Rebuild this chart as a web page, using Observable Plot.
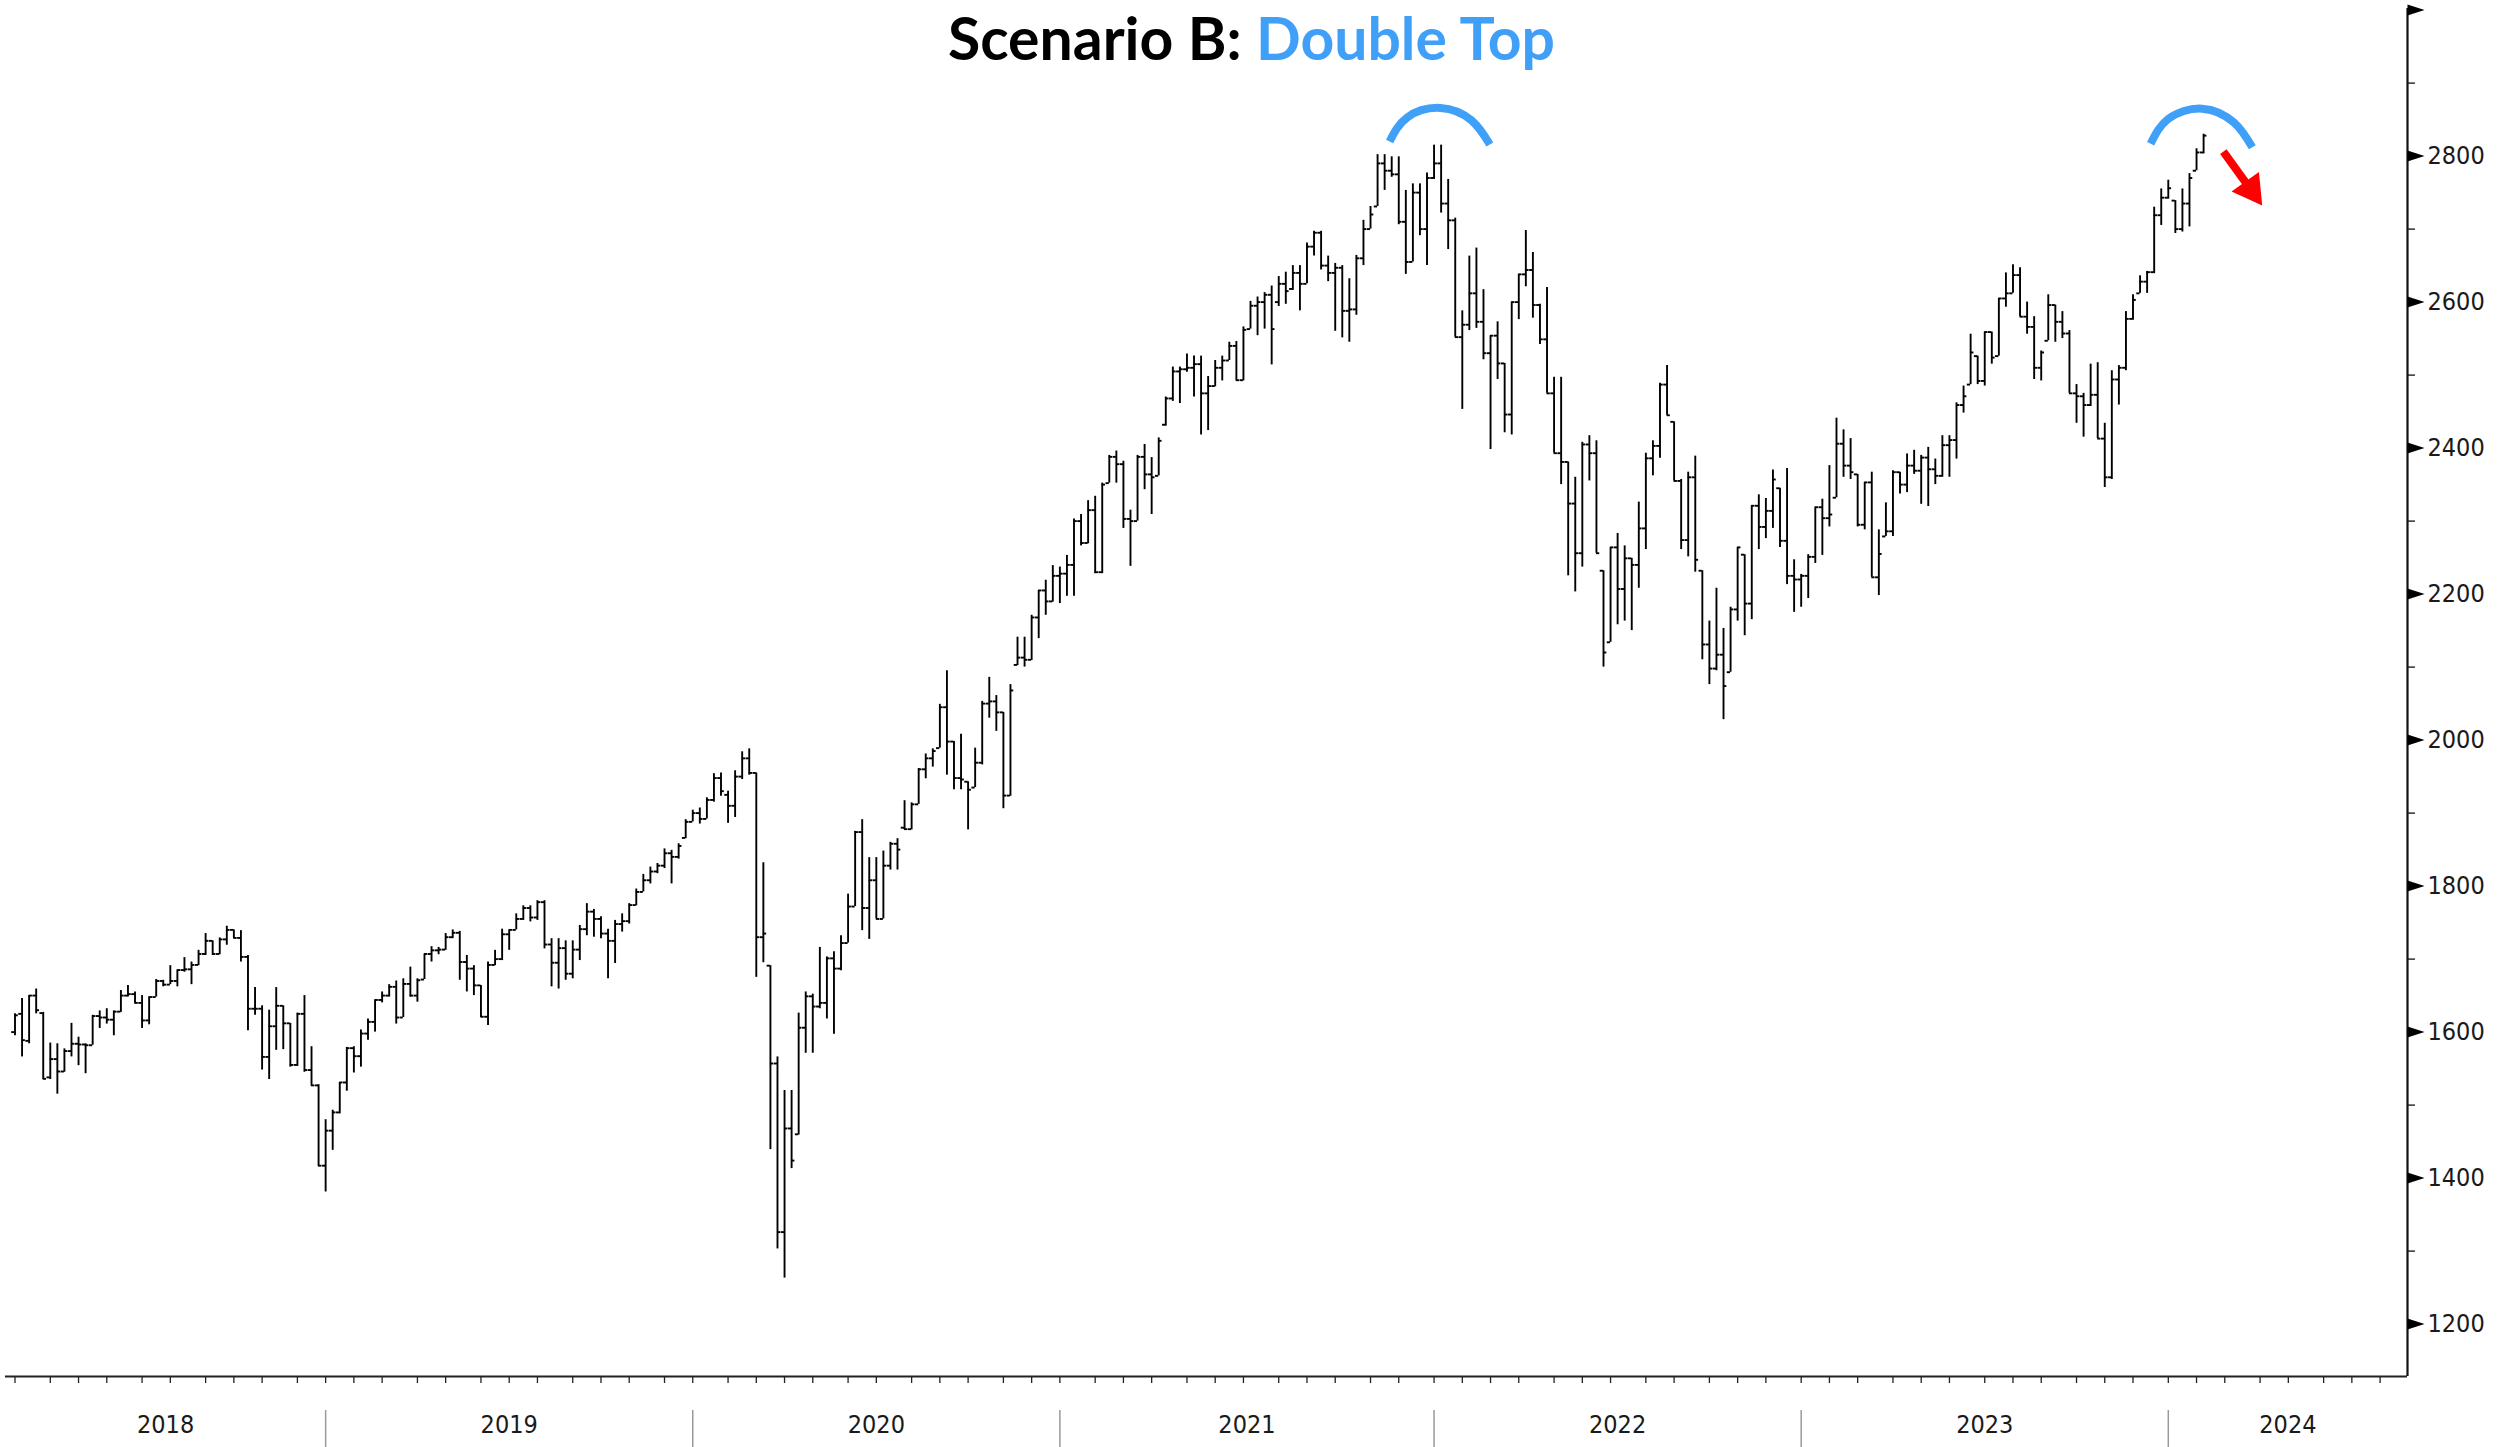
<!DOCTYPE html>
<html>
<head>
<meta charset="utf-8">
<script src="https://cdn.jsdelivr.net/npm/d3@7"></script>
<script src="https://cdn.jsdelivr.net/npm/@observablehq/plot@0.6"></script>
<style>
  html, body { margin: 0; padding: 0; background: #fff; }
  #wrap { position: relative; width: 2515px; height: 1447px; overflow: hidden; background: #fff; }
  #chart { position: absolute; left: 0; top: 0; }
  #title { position: absolute; left: 0; top: 0; }
</style>
</head>
<body>
<div id="wrap">
  <div id="chart"></div>
  <svg id="title" width="2515" height="90">
    <text x="948" y="60" textLength="607" lengthAdjust="spacingAndGlyphs"
      style="font-family: Lato, 'Open Sans', sans-serif; font-weight: 700; font-size: 60px;"><tspan fill="#000">Scenario B: </tspan><tspan fill="#40a0f8">Double Top</tspan></text>
  </svg>
</div>
<script>
// ---------------- DATA (weekly OHLC bars, first bar = week ending 2018-03-02) ----------------
const firstWeekEnding = "2018-03-02";

const opens = [
  1600,1625,1588,1650,1626,1538,1563,1546,1574,1584,
  1583,1582,1622,1620,1617,1628,1650,1652,1640,1616,
  1648,1670,1665,1670,1685,1686,1692,1707,1725,1707,
  1727,1740,1729,1703,1632,1632,1566,1608,1636,1612,
  1555,1625,1548,1527,1417,1465,1490,1531,1578,1567,
  1598,1614,1644,1650,1662,1620,1666,1650,1672,1707,
  1712,1713,1730,1736,1696,1687,1664,1621,1692,1700,
  1734,1740,1755,1770,1757,1778,1720,1695,1715,1680,
  1713,1741,1765,1755,1735,1725,1748,1752,1774,1792,
  1808,1820,1828,1845,1840,1866,1888,1900,1892,1918,
  1948,1925,1910,1950,1975,1955,1730,1691,1557,1326,
  1468,1460,1606,1649,1635,1640,1701,1687,1722,1772,
  1874,1770,1808,1755,1828,1858,1880,1878,1912,1960,
  1975,1989,2045,1998,1948,1943,1935,1969,2050,2053,
  2038,1924,2103,2113,2110,2168,2205,2190,2225,2228,
  2240,2300,2270,2315,2230,2352,2388,2378,2303,2300,
  2388,2364,2362,2432,2468,2505,2508,2510,2515,2475,
  2485,2510,2520,2540,2493,2563,2595,2600,2610,2600,
  2625,2618,2640,2625,2676,2695,2650,2640,2647,2588,
  2590,2660,2700,2731,2790,2780,2775,2710,2655,2750,
  2700,2770,2790,2735,2712,2552,2569,2612,2573,2530,
  2554,2516,2446,2600,2638,2644,2596,2549,2475,2393,
  2381,2324,2256,2405,2393,2232,2134,2264,2207,2249,
  2240,2290,2386,2403,2487,2436,2355,2274,2360,2232,
  2131,2098,2117,2093,2179,2254,2187,2321,2292,2314,
  2345,2273,2225,2220,2225,2251,2319,2304,2332,2406,
  2376,2364,2295,2353,2223,2279,2286,2367,2350,2376,
  2369,2387,2371,2362,2404,2411,2459,2487,2526,2492,
  2559,2526,2605,2612,2637,2580,2566,2510,2547,2596,
  2573,2557,2475,2471,2459,2473,2413,2360,2494,2510,
  2577,2612,2628,2641,2719,2743,2739,2700,2735,2780,
  2805
];

const highs = [
  1625,1646,1650,1659,1627,1585,1584,1577,1612,1593,
  1584,1623,1629,1632,1629,1657,1664,1655,1650,1648,
  1672,1671,1691,1685,1702,1696,1712,1735,1725,1729,
  1745,1740,1739,1705,1661,1636,1630,1661,1636,1612,
  1626,1650,1580,1528,1480,1493,1531,1579,1580,1603,
  1618,1644,1655,1665,1670,1673,1689,1673,1707,1717,
  1716,1735,1740,1738,1705,1691,1664,1696,1712,1741,
  1740,1762,1773,1773,1780,1780,1728,1728,1725,1725,
  1746,1776,1768,1758,1741,1753,1762,1776,1796,1816,
  1826,1831,1851,1849,1858,1891,1904,1907,1921,1954,
  1955,1930,1958,1984,1988,1955,1832,1691,1566,1520,
  1520,1626,1655,1652,1716,1703,1710,1732,1789,1875,
  1891,1839,1839,1848,1860,1865,1917,1914,1961,1981,
  1988,2049,2095,1998,2008,1943,1989,2053,2086,2061,
  2038,2076,2141,2141,2171,2205,2219,2239,2237,2253,
  2303,2309,2328,2334,2352,2390,2396,2382,2315,2390,
  2405,2387,2414,2470,2511,2511,2529,2526,2526,2498,
  2520,2526,2545,2546,2566,2601,2607,2613,2622,2635,
  2641,2650,2650,2681,2697,2697,2663,2653,2650,2632,
  2664,2712,2731,2802,2802,2799,2799,2753,2762,2762,
  2777,2815,2815,2768,2715,2588,2663,2674,2617,2554,
  2573,2516,2600,2638,2698,2668,2597,2620,2497,2497,
  2381,2360,2408,2417,2410,2232,2264,2283,2266,2249,
  2326,2393,2410,2489,2513,2436,2357,2367,2389,2232,
  2163,2208,2153,2182,2264,2254,2321,2336,2331,2370,
  2345,2372,2247,2227,2254,2319,2330,2376,2441,2425,
  2413,2364,2353,2367,2288,2325,2369,2367,2392,2397,
  2390,2401,2385,2417,2417,2462,2485,2556,2526,2559,
  2559,2605,2640,2651,2647,2600,2580,2533,2610,2596,
  2587,2561,2487,2475,2515,2517,2434,2506,2513,2587,
  2610,2636,2642,2730,2755,2767,2739,2755,2776,2810,
  2830
];

const lows = [
  1595,1566,1584,1625,1535,1535,1515,1545,1566,1554,
  1543,1582,1605,1611,1595,1627,1648,1639,1605,1610,
  1648,1662,1665,1662,1682,1665,1691,1705,1705,1706,
  1719,1728,1696,1602,1623,1548,1535,1575,1576,1552,
  1553,1545,1526,1416,1381,1438,1488,1519,1544,1552,
  1589,1600,1640,1648,1611,1620,1648,1641,1672,1696,
  1706,1712,1728,1671,1655,1650,1620,1609,1691,1698,
  1712,1740,1753,1751,1753,1714,1662,1659,1671,1673,
  1698,1732,1730,1728,1673,1694,1737,1748,1773,1792,
  1803,1817,1824,1803,1837,1865,1888,1885,1892,1915,
  1923,1886,1894,1946,1952,1675,1695,1439,1303,1263,
  1413,1459,1571,1571,1632,1618,1597,1684,1722,1772,
  1739,1727,1755,1755,1822,1822,1877,1877,1912,1947,
  1963,1989,1952,1932,1932,1877,1935,1966,2030,2012,
  1906,1923,2102,2100,2109,2139,2171,2189,2187,2197,
  2197,2266,2269,2228,2228,2352,2352,2290,2238,2300,
  2343,2309,2362,2430,2464,2461,2504,2470,2418,2424,
  2484,2492,2520,2492,2492,2563,2554,2563,2514,2594,
  2597,2616,2588,2625,2663,2644,2628,2560,2551,2545,
  2582,2650,2700,2731,2753,2771,2706,2638,2655,2691,
  2650,2768,2722,2672,2552,2453,2561,2564,2521,2398,
  2494,2421,2418,2576,2621,2578,2542,2475,2393,2350,
  2225,2203,2237,2355,2256,2100,2134,2158,2163,2150,
  2208,2261,2362,2386,2445,2355,2261,2251,2230,2110,
  2076,2095,2028,2093,2163,2143,2165,2261,2276,2290,
  2264,2213,2175,2182,2194,2242,2253,2292,2332,2360,
  2357,2292,2288,2223,2198,2279,2279,2337,2339,2364,
  2323,2320,2350,2360,2360,2385,2448,2487,2487,2485,
  2515,2526,2593,2612,2580,2556,2494,2492,2547,2545,
  2550,2475,2434,2415,2457,2413,2346,2357,2459,2506,
  2575,2612,2612,2639,2705,2741,2694,2696,2703,2780,
  2803
];

const closes = [
  1623,1589,1650,1630,1536,1563,1546,1574,1584,1583,
  1582,1622,1620,1617,1628,1650,1652,1640,1616,1648,
  1670,1665,1670,1685,1686,1692,1707,1725,1707,1727,
  1740,1729,1703,1632,1632,1566,1608,1636,1612,1555,
  1625,1548,1527,1417,1465,1490,1531,1578,1567,1598,
  1614,1644,1650,1662,1620,1666,1650,1671,1707,1712,
  1713,1730,1736,1696,1687,1664,1621,1692,1700,1734,
  1740,1755,1770,1757,1778,1720,1695,1715,1680,1713,
  1741,1765,1755,1735,1725,1748,1752,1774,1792,1808,
  1820,1828,1845,1840,1855,1888,1900,1892,1918,1948,
  1930,1910,1950,1975,1955,1730,1735,1557,1326,1468,
  1424,1606,1649,1635,1640,1701,1687,1722,1772,1874,
  1770,1808,1755,1828,1858,1850,1878,1912,1960,1975,
  1985,2045,1998,1948,1946,1932,1969,2050,2053,2038,
  1924,2068,2113,2110,2168,2205,2190,2225,2228,2240,
  2300,2270,2315,2230,2350,2388,2378,2303,2300,2388,
  2364,2360,2410,2468,2505,2508,2510,2515,2475,2485,
  2510,2520,2540,2493,2562,2595,2600,2610,2563,2625,
  2615,2640,2625,2676,2695,2650,2640,2647,2588,2590,
  2660,2700,2720,2790,2780,2775,2710,2655,2750,2700,
  2770,2790,2735,2712,2552,2569,2612,2573,2530,2554,
  2516,2446,2600,2638,2644,2596,2549,2475,2393,2381,
  2324,2256,2405,2393,2256,2120,2264,2207,2249,2240,
  2290,2386,2403,2487,2445,2355,2274,2360,2247,2131,
  2098,2117,2074,2179,2264,2187,2321,2292,2314,2357,
  2273,2225,2220,2225,2251,2319,2304,2309,2406,2376,
  2367,2295,2353,2223,2255,2286,2367,2350,2376,2369,
  2387,2371,2362,2404,2411,2459,2471,2531,2492,2559,
  2524,2605,2612,2637,2580,2566,2510,2531,2596,2573,
  2557,2475,2471,2459,2473,2413,2360,2494,2510,2577,
  2603,2628,2641,2719,2743,2756,2700,2735,2770,2805,
  2828
];

const yearLabels = [2018, 2019, 2020, 2021, 2022, 2023, 2024];
const yMajorTicks = [1200, 1400, 1600, 1800, 2000, 2200, 2400, 2600, 2800, 3000];
const yMinorTicks = [1300, 1500, 1700, 1900, 2100, 2300, 2500, 2700, 2900];
const yTickLabels = [1200, 1400, 1600, 1800, 2000, 2200, 2400, 2600, 2800];

// annotations: (week index, value)
const topArcs = [
  {arc: 1, w: 194.7, v: 2820}, {arc: 1, w: 197.2, v: 2853}, {arc: 1, w: 201.9, v: 2866},
  {arc: 1, w: 206.3, v: 2849}, {arc: 1, w: 208.9, v: 2816},
  {arc: 2, w: 302.5, v: 2817}, {arc: 2, w: 305.0, v: 2851}, {arc: 2, w: 309.8, v: 2865},
  {arc: 2, w: 314.3, v: 2846}, {arc: 2, w: 316.9, v: 2812}
];
const downArrow = {w1: 312.8, v1: 2806, w2: 316.1, v2: 2762, wHead: 316.7, vHead: 2754, angle: 144.4};

// ---------------- LAYOUT ----------------
const W = 2515, H = 1447;
const axisLeftX = 5, axisRightX = 2407, axisBottomY = 1376, axisTopY = 8;
const firstBarX = 14.5, pxPerWeek = 7.06;
const yPx1200 = 1323.6, yPx2800 = 155.6;
const tickPx = 3.3;

const msWeek = 7 * 864e5;
const t0 = new Date(firstWeekEnding + "T00:00:00Z");
const weekDate = w => new Date(+t0 + w * msWeek);
const xDomain = [weekDate(-(firstBarX - axisLeftX) / pxPerWeek), weekDate((axisRightX - firstBarX) / pxPerWeek)];
const ppu = (yPx1200 - yPx2800) / 1600;
const valAt = py => 2800 - (py - yPx2800) / ppu;
const tickMs = tickPx / pxPerWeek * msWeek;

const bars = opens.map((o, i) => ({
  date: weekDate(i), open: o, high: highs[i], low: lows[i], close: closes[i]
}));

// monthly ticks at first weekly bar of each month
const monthTicks = d3.utcMonth.range(new Date(Date.UTC(2018, 2, 1)), new Date(Date.UTC(2024, 8, 1)))
  .map(d => d3.utcFriday.ceil(d)).filter(d => d <= xDomain[1]);
const yearSeps = monthTicks.filter(d => d.getUTCMonth() === 0);
const bounds = [xDomain[0], ...yearSeps, xDomain[1]];
const yearText = yearLabels.map((y, i) => ({label: String(y), x: new Date((+bounds[i] + +bounds[i + 1]) / 2)}));

const axisFont = "'DejaVu Sans Condensed', 'DejaVu Sans', sans-serif";
const flag = {draw(ctx) { ctx.moveTo(0, -5.5); ctx.lineTo(17, 0); ctx.lineTo(0, 5.5); ctx.closePath(); }};
const blue = "#40a0f8", red = "#ff0000", ink = "#000";

const chart = Plot.plot({
  width: W, height: H,
  marginLeft: axisLeftX, marginRight: W - axisRightX, marginTop: axisTopY, marginBottom: H - axisBottomY,
  style: {background: "#fff", overflow: "visible"},
  x: {type: "utc", domain: xDomain, axis: null},
  y: {domain: [1200, 2800], range: [yPx1200, yPx2800], axis: null},
  marks: [
    // axes lines
    Plot.ruleY([{y: valAt(axisBottomY), a: xDomain[0], b: xDomain[1]}], {y: "y", x1: "a", x2: "b", stroke: "#222", strokeWidth: 2}),
    Plot.ruleX([{x: xDomain[1], y1: valAt(axisBottomY), y2: valAt(axisTopY)}], {x: "x", y1: "y1", y2: "y2", stroke: "#111", strokeWidth: 2.2}),
    // x ticks
    Plot.axisX({ticks: monthTicks, tickSize: 7, tickFormat: () => "", stroke: "#222", strokeWidth: 1.3}),
    // year separators
    Plot.ruleX(yearSeps, {x: d => d, y1: valAt(1410), y2: valAt(1447), stroke: "#9a9a9a", strokeWidth: 1.5}),
    Plot.text(yearText, {x: "x", text: "label", frameAnchor: "bottom", dy: 56, fontSize: 25, fontFamily: axisFont, fill: "#1a1a1a"}),
    // y ticks
    Plot.axisY({anchor: "right", ticks: yMinorTicks, tickSize: 7, tickFormat: () => "", stroke: "#111", strokeWidth: 1.3}),
    Plot.dot(yMajorTicks, {y: d => d, frameAnchor: "right", symbol: flag, fill: "#000", stroke: "none", r: 5}),
    Plot.text(yTickLabels, {y: d => d, text: d => String(d), frameAnchor: "right", dx: 20, textAnchor: "start", fontSize: 25, fontFamily: axisFont, fill: "#1a1a1a"}),
    // OHLC bars
    Plot.ruleX(bars, {x: "date", y1: "low", y2: "high", stroke: ink, strokeWidth: 1.9}),
    Plot.ruleY(bars, {y: "open", x1: d => new Date(+d.date - tickMs), x2: "date", stroke: ink, strokeWidth: 1.9}),
    Plot.ruleY(bars, {y: "close", x1: "date", x2: d => new Date(+d.date + tickMs), stroke: ink, strokeWidth: 1.9}),
    // annotations
    Plot.line(topArcs, {x: d => weekDate(d.w), y: "v", z: "arc", curve: "natural", stroke: blue, strokeWidth: 8, strokeLinecap: "butt"}),
    Plot.link([downArrow], {x1: d => weekDate(d.w1), y1: "v1", x2: d => weekDate(d.w2), y2: "v2", stroke: red, strokeWidth: 8}),
    Plot.dot([downArrow], {x: d => weekDate(d.wHead), y: "vHead", symbol: "triangle", r: 12.5, rotate: d => d.angle, fill: red, stroke: "none"})
  ]
});
document.getElementById("chart").appendChild(chart);
</script>
</body>
</html>
